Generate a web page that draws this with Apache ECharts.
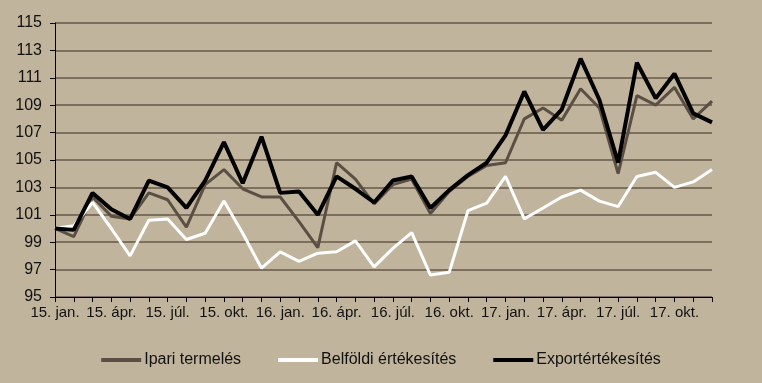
<!DOCTYPE html>
<html><head><meta charset="utf-8">
<script src="https://cdn.jsdelivr.net/npm/echarts@6/dist/echarts.min.js"></script>
<style>html,body{margin:0;padding:0;background:#c1b49c;}#c{width:762px;height:383px;}</style>
</head><body><div id="c"></div>
<script>
const categories = ["15. jan.","15. febr.","15. márc.","15. ápr.","15. máj.","15. jún.","15. júl.","15. aug.","15. szept.","15. okt.","15. nov.","15. dec.",
"16. jan.","16. febr.","16. márc.","16. ápr.","16. máj.","16. jún.","16. júl.","16. aug.","16. szept.","16. okt.","16. nov.","16. dec.",
"17. jan.","17. febr.","17. márc.","17. ápr.","17. máj.","17. jún.","17. júl.","17. aug.","17. szept.","17. okt.","17. nov.","17. dec."];
const ipari = [100.0,99.4,102.3,100.9,100.7,102.6,102.1,100.1,103.2,104.3,102.9,102.3,
102.3,100.5,98.6,104.8,103.6,101.8,103.2,103.6,101.1,102.7,103.8,104.6,
104.8,108.0,108.8,107.9,110.2,108.8,104.0,109.7,109.0,110.3,108.0,109.3];
const belfoldi = [100.0,100.2,101.9,100.0,98.0,100.6,100.7,99.2,99.65,102.0,99.65,97.1,
98.3,97.6,98.2,98.3,99.1,97.2,98.55,99.7,96.6,96.8,101.3,101.85,
103.8,100.7,101.5,102.3,102.8,102.0,101.6,103.8,104.1,103.0,103.4,104.3];
const export_ = [100.0,99.9,102.6,101.4,100.7,103.5,103.0,101.5,103.5,106.3,103.3,106.7,
102.6,102.7,101.0,103.8,102.9,101.9,103.5,103.8,101.5,102.8,103.9,104.8,
106.8,110.0,107.2,108.7,112.4,109.4,104.8,112.1,109.5,111.3,108.4,107.75];
const yTicks = {min:95, max:115, interval:2};

const font = '"Liberation Sans", Arial, sans-serif';
const chart = echarts.init(document.getElementById('c'), null, {renderer:'canvas'});
chart.setOption({
  backgroundColor:'#c1b49c',
  animation:false,
  grid:{left:55,right:50,top:23,bottom:86},
  legend:{
    bottom:10, left:'center', itemGap:37, itemWidth:40, itemHeight:4,
    textStyle:{fontFamily:font,fontSize:16,color:'#111',padding:[0,0,0,-2]},
    data:[
      {name:'Ipari termelés',icon:'rect',itemStyle:{color:'#5b4f43'}},
      {name:'Belföldi értékesítés',icon:'rect',itemStyle:{color:'#ffffff'}},
      {name:'Exportértékesítés',icon:'rect',itemStyle:{color:'#000000'}}
    ]
  },
  xAxis:{
    type:'category', data:categories, boundaryGap:false,
    axisLine:{lineStyle:{color:'#000',width:1}},
    axisTick:{show:true,interval:0,length:5,lineStyle:{color:'#000'}},
    axisLabel:{interval:2,fontFamily:font,fontSize:15,color:'#111',margin:8,hideOverlap:false},
    splitLine:{show:false}
  },
  yAxis:{
    type:'value', min:yTicks.min, max:yTicks.max, interval:yTicks.interval,
    axisLine:{show:true,lineStyle:{color:'#000',width:1}},
    axisTick:{show:true,length:5,lineStyle:{color:'#000'}},
    axisLabel:{fontFamily:font,fontSize:16,color:'#111',margin:13},
    splitLine:{show:true,lineStyle:{color:'#7d6f5e',width:2}}
  },
  series:[
    {name:'Ipari termelés',type:'line',data:ipari,symbol:'none',lineStyle:{color:'#5b4f43',width:3},itemStyle:{color:'#5b4f43'},z:2},
    {name:'Belföldi értékesítés',type:'line',data:belfoldi,symbol:'none',lineStyle:{color:'#ffffff',width:3},itemStyle:{color:'#ffffff'},z:3},
    {name:'Exportértékesítés',type:'line',data:export_,symbol:'none',lineStyle:{color:'#000000',width:4},itemStyle:{color:'#000'},z:4}
  ]
});
</script></body></html>
